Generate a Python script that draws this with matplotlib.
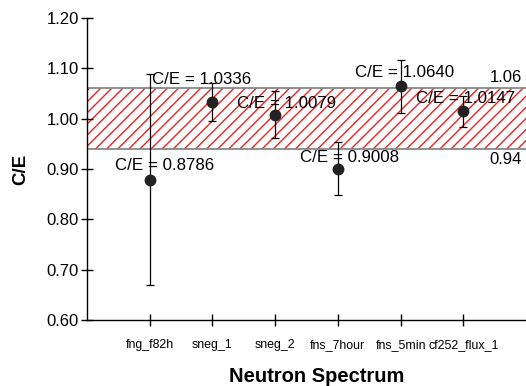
import matplotlib
matplotlib.use("Agg")
import matplotlib.pyplot as plt

# data
spectra = ["fng_f82h", "sneg_1", "sneg_2", "fns_7hour", "fns_5min", "cf252_flux_1"]
ce_values = [0.8786, 1.0336, 1.0079, 0.9008, 1.0640, 1.0147]
ce_errors = [0.21, 0.038, 0.047, 0.052, 0.053, 0.031]
band_low = 0.94
band_high = 1.06
y_ticks = [0.60, 0.70, 0.80, 0.90, 1.00, 1.10, 1.20]

# label offsets (pixels) relative to each point
label_offsets = [(-35, 14), (-60, 22), (-38, 11), (-38, 11), (-46, 14), (-47, 13)]

plt.rcParams["font.family"] = ["Liberation Sans", "DejaVu Sans"]

fig = plt.figure(figsize=(5.26, 3.86), dpi=100)
ax = fig.add_axes([87 / 526, 66 / 386, 1 - 87 / 526, (320 - 18) / 386])

x = list(range(1, len(spectra) + 1))

ax.fill_between([0, 7], band_low, band_high, facecolor="none", edgecolor="#ee2222",
                hatch="///", linewidth=0, zorder=1)
ax.axhline(band_high, color="#888888", lw=1.3, zorder=2)
ax.axhline(band_low, color="#888888", lw=1.3, zorder=2)
ax.text(6.94, band_high + 0.006, f"{band_high:.2f}", ha="right", va="bottom", fontsize=12)
ax.text(6.94, band_low - 0.006, f"{band_low:.2f}", ha="right", va="top", fontsize=12)

ax.errorbar(x, ce_values, yerr=ce_errors, fmt="o", color="black", ecolor="black",
            elinewidth=0.9, capsize=3, capthick=0.9, markersize=7.5,
            markerfacecolor="#222222", markeredgecolor="#222222", zorder=3)

for xi, v, (dx, dy) in zip(x, ce_values, label_offsets):
    ax.annotate(f"C/E = {v:.4f}", (xi, v), xytext=(dx * 0.72, dy * 0.72),
                textcoords="offset points", ha="left", va="center", fontsize=12.2,
                zorder=4)

ax.set_xlim(0, 7)
ax.set_ylim(0.60, 1.20)
ax.set_xticks(x)
ax.set_xticklabels(spectra, fontsize=8.9)
ax.set_yticks(y_ticks)
ax.set_yticklabels([f"{t:.2f}" for t in y_ticks], fontsize=12)
ax.tick_params(axis="both", direction="inout", length=8, width=1, color="black")
ax.tick_params(axis="x", pad=10)
ax.tick_params(axis="y", pad=2)

for side in ["top", "right"]:
    ax.spines[side].set_visible(False)
for side in ["left", "bottom"]:
    ax.spines[side].set_linewidth(1)

ax.set_ylabel("C/E", fontsize=13.5, fontweight="bold", labelpad=12)
fig.text(317 / 526, 1 - 376 / 386, "Neutron Spectrum", ha="center", va="center",
         fontsize=14.5, fontweight="bold")

fig.savefig("out.png", dpi=100)
